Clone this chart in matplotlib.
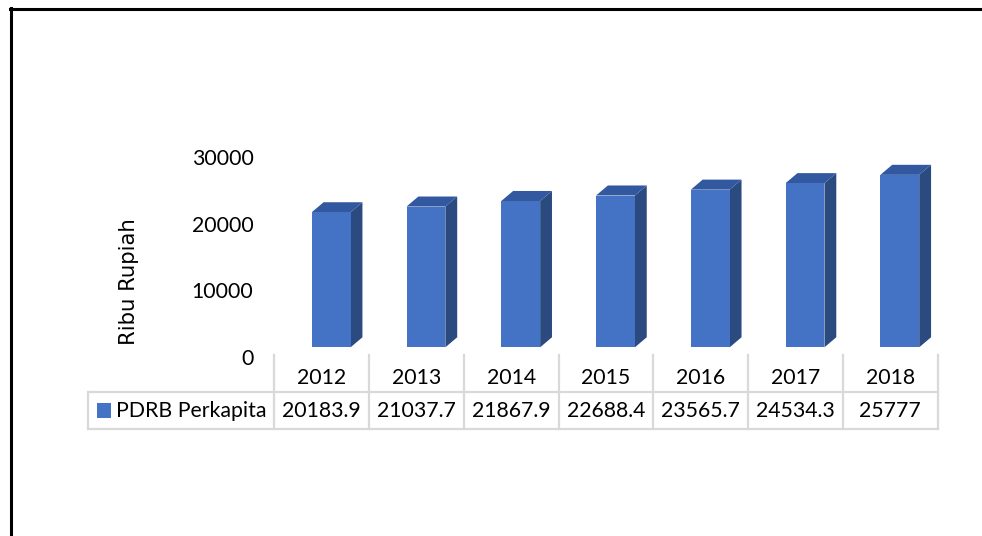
import matplotlib.pyplot as plt
from matplotlib.patches import Polygon, Rectangle
from matplotlib.lines import Line2D
from matplotlib.transforms import ScaledTranslation, blended_transform_factory

# PDRB per kapita (ribu rupiah)
years = ["2012", "2013", "2014", "2015", "2016", "2017", "2018"]
values = [20183.9, 21037.7, 21867.9, 22688.4, 23565.7, 24534.3, 25777]
value_labels = ["20183.9", "21037.7", "21867.9", "22688.4", "23565.7", "24534.3", "25777"]
series_name = "PDRB Perkapita"
y_ticks = [0, 10000, 20000, 30000]

W, H = 982, 536
plt.rcParams['font.family'] = ['Lato', 'DejaVu Sans']
fig = plt.figure(figsize=(W / 100, H / 100), dpi=100)

def fx(px):
    return px / W

def fy(py):
    # pixel measured from the top
    return 1 - py / H

txt_c = '#000000'

# axes: category columns line up with the data table below
ax = fig.add_axes([fx(274.3), fy(347.3), fx(937.7) - fx(274.3), fy(146.6) - fy(347.3)])
ax.set_xlim(-0.5, len(years) - 0.5)
ax.set_ylim(0, 30000)
for s in ax.spines.values():
    s.set_visible(False)
ax.set_xticks([])
ax.set_yticks(y_ticks)
ax.set_yticklabels([str(t) for t in y_ticks], fontsize=15.3, color=txt_c)
ax.tick_params(axis='y', length=0, pad=15)
shift = ScaledTranslation(0, -10 / 100, fig.dpi_scale_trans)
for lab in ax.get_yticklabels():
    lab.set_transform(lab.get_transform() + shift)

# pseudo-3D columns
front_c, top_c, side_c = '#4472C4', '#3258A0', '#2A4A80'
off, bw = 0.395, 0.41        # front face offset and width, in category units
dx, dy = 0.125, 1500         # depth
for i, v in enumerate(values):
    x0 = i - 0.5 + off
    x1 = x0 + bw
    ax.add_patch(Polygon([(x1, 0), (x1 + dx, dy), (x1 + dx, v + dy), (x1, v)],
                         closed=True, facecolor=side_c, edgecolor='none', clip_on=False))
    ax.add_patch(Polygon([(x0, v), (x0 + dx, v + dy), (x1 + dx, v + dy), (x1, v)],
                         closed=True, facecolor=top_c, edgecolor='none', clip_on=False))
    ax.add_patch(Rectangle((x0, 0), bw, v, facecolor=front_c, edgecolor='none', clip_on=False))

fig.text(fx(129), fy(282), "Ribu Rupiah", rotation=90, ha='center', va='center',
         fontsize=15.3, family='DejaVu Sans', color=txt_c)

# data table
tr = blended_transform_factory(ax.transData, fig.transFigure)
grid_c = '#d9d9d9'
top_y, mid_y, bot_y = fy(355), fy(391.7), fy(429.3)
for i in range(len(years) + 1):
    fig.add_artist(Line2D([i - 0.5, i - 0.5], [top_y, bot_y], transform=tr,
                          color=grid_c, lw=1.6))
for yy in (mid_y, bot_y):
    fig.add_artist(Line2D([fx(88), fx(937.7)], [yy, yy], color=grid_c, lw=1.6))
fig.add_artist(Line2D([fx(88), fx(88)], [mid_y, bot_y], color=grid_c, lw=1.6))

for i, (yr, lab) in enumerate(zip(years, value_labels)):
    fig.text(i, fy(378), yr, transform=tr, ha='center', va='center', fontsize=15.3, color=txt_c)
    fig.text(i, fy(410.7), lab, transform=tr, ha='center', va='center', fontsize=15.3, color=txt_c)

fig.add_artist(Rectangle((fx(96.7), fy(417.7)), fx(14), fy(403) - fy(417.7),
                         transform=fig.transFigure, facecolor=front_c, edgecolor='none'))
fig.text(fx(116), fy(410.7), series_name, ha='left', va='center', fontsize=15.3, color=txt_c)

# outer frame (top and left only)
fig.add_artist(Line2D([fx(10), 1], [fy(9), fy(9)], color='black', lw=2.2))
fig.add_artist(Line2D([fx(10.8), fx(10.8)], [fy(8), 0], color='black', lw=2.2))

fig.savefig("out.png", dpi=100)
